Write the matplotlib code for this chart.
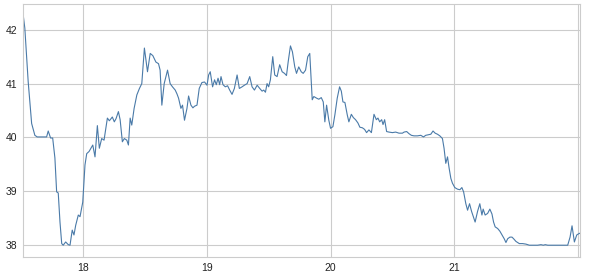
import matplotlib
matplotlib.use("Agg")
import matplotlib.pyplot as plt

# values
x = [17.517, 17.530, 17.557, 17.585, 17.611, 17.630, 17.706, 17.719, 17.738, 17.755,
     17.773, 17.787, 17.800, 17.814, 17.828, 17.840, 17.860, 17.881, 17.895, 17.913,
     17.927, 17.941, 17.962, 17.976, 17.998, 18.016, 18.030, 18.049, 18.079, 18.097,
     18.116, 18.132, 18.151, 18.170, 18.197, 18.213, 18.237, 18.253, 18.267, 18.286,
     18.300, 18.318, 18.334, 18.354, 18.367, 18.381, 18.394, 18.413, 18.435, 18.456,
     18.475, 18.496, 18.521, 18.543, 18.564, 18.589, 18.610, 18.623, 18.637, 18.656,
     18.683, 18.704, 18.723, 18.745, 18.759, 18.772, 18.791, 18.804, 18.820, 18.840,
     18.853, 18.872, 18.888, 18.901, 18.921, 18.939, 18.961, 18.982, 19.002, 19.015,
     19.028, 19.047, 19.063, 19.077, 19.091, 19.104, 19.115, 19.131, 19.150, 19.168,
     19.185, 19.204, 19.223, 19.245, 19.263, 19.285, 19.304, 19.326, 19.347, 19.366,
     19.385, 19.407, 19.428, 19.447, 19.460, 19.474, 19.487, 19.500, 19.514, 19.533,
     19.549, 19.568, 19.589, 19.609, 19.628, 19.644, 19.658, 19.676, 19.692, 19.711,
     19.725, 19.743, 19.763, 19.779, 19.798, 19.816, 19.832, 19.852, 19.865, 19.887,
     19.905, 19.925, 19.941, 19.954, 19.968, 19.986, 20.000, 20.019, 20.035, 20.054,
     20.073, 20.087, 20.100, 20.116, 20.135, 20.148, 20.168, 20.184, 20.202, 20.221,
     20.237, 20.257, 20.275, 20.291, 20.310, 20.330, 20.351, 20.370, 20.383, 20.397,
     20.413, 20.424, 20.437, 20.453, 20.472, 20.500, 20.526, 20.553, 20.581, 20.594,
     20.615, 20.634, 20.653, 20.674, 20.702, 20.729, 20.751, 20.769, 20.788, 20.810,
     20.828, 20.845, 20.864, 20.883, 20.904, 20.917, 20.931, 20.945, 20.958, 20.972,
     20.985, 21.004, 21.026, 21.045, 21.061, 21.075, 21.093, 21.107, 21.123, 21.139,
     21.152, 21.168, 21.188, 21.206, 21.223, 21.233, 21.249, 21.269, 21.287, 21.304,
     21.317, 21.330, 21.350, 21.368, 21.385, 21.403, 21.417, 21.431, 21.449, 21.466,
     21.479, 21.498, 21.525, 21.552, 21.579, 21.606, 21.633, 21.673, 21.700, 21.719,
     21.735, 21.755, 21.808, 21.862, 21.916, 21.935, 21.951, 21.970, 21.989, 22.010,
     22.019]
y = [42.27, 42.03, 41.04, 40.26, 40.04, 40.01, 40.01, 40.12, 39.99, 39.99,
     39.62, 38.99, 38.97, 38.43, 38.03, 38.00, 38.06, 38.01, 38.00, 38.28,
     38.19, 38.37, 38.56, 38.53, 38.80, 39.49, 39.70, 39.74, 39.86, 39.64,
     40.22, 39.80, 39.98, 39.95, 40.36, 40.31, 40.38, 40.29, 40.35, 40.48,
     40.33, 39.92, 39.98, 39.95, 39.86, 40.36, 40.23, 40.54, 40.79, 40.91,
     41.00, 41.66, 41.22, 41.56, 41.52, 41.40, 41.37, 41.25, 40.60, 41.00,
     41.25, 41.00, 40.94, 40.88, 40.81, 40.73, 40.54, 40.60, 40.32, 40.54,
     40.77, 40.60, 40.55, 40.58, 40.60, 40.91, 41.02, 41.03, 40.97, 41.16,
     41.22, 40.94, 41.07, 40.98, 41.10, 40.98, 41.13, 40.98, 40.94, 40.96,
     40.88, 40.80, 40.91, 41.16, 40.91, 40.94, 40.97, 41.00, 41.13, 40.94,
     40.88, 40.97, 40.91, 40.86, 40.88, 40.84, 41.00, 40.94, 41.07, 41.50,
     41.16, 41.13, 41.35, 41.22, 41.19, 41.15, 41.41, 41.70, 41.59, 41.31,
     41.19, 41.31, 41.22, 41.19, 41.25, 41.50, 41.56, 40.70, 40.76, 40.73,
     40.71, 40.74, 40.66, 40.29, 40.60, 40.32, 40.17, 40.20, 40.42, 40.73,
     40.94, 40.86, 40.66, 40.65, 40.42, 40.29, 40.43, 40.37, 40.33, 40.27,
     40.19, 40.18, 40.15, 40.09, 40.14, 40.09, 40.43, 40.33, 40.36, 40.29,
     40.33, 40.24, 40.33, 40.11, 40.10, 40.09, 40.10, 40.08, 40.08, 40.10,
     40.11, 40.07, 40.04, 40.03, 40.03, 40.04, 40.01, 40.04, 40.05, 40.06,
     40.12, 40.08, 40.06, 40.03, 39.98, 39.80, 39.52, 39.64, 39.43, 39.24,
     39.15, 39.07, 39.04, 39.03, 39.07, 38.99, 38.77, 38.65, 38.77, 38.63,
     38.54, 38.43, 38.63, 38.77, 38.56, 38.67, 38.56, 38.59, 38.67, 38.58,
     38.43, 38.34, 38.31, 38.26, 38.19, 38.12, 38.05, 38.12, 38.15, 38.15,
     38.12, 38.07, 38.03, 38.03, 38.02, 38.00, 38.00, 38.00, 38.01, 38.00,
     38.01, 38.00, 38.00, 38.00, 38.00, 38.15, 38.36, 38.06, 38.19, 38.22,
     38.22]

x_ticks = [18, 19, 20, 21, 22]
x_tick_labels = ['18', '19', '20', '21', '']
y_ticks = [38, 39, 40, 41, 42]

plt.rcParams['font.family'] = ['Liberation Sans', 'DejaVu Sans']

fig = plt.figure(figsize=(6.11, 2.77), dpi=100)
ax = fig.add_axes([0.038, 0.072, 0.912, 0.914])

ax.plot(x, y, color='#4a7aa8', linewidth=0.8)

ax.set_xlim(x[0], x[-1])
ax.set_ylim(37.78, 42.48)
ax.set_xticks(x_ticks, x_tick_labels)
ax.set_yticks(y_ticks)

ax.grid(True, color='#cccccc', linewidth=0.8)
ax.set_axisbelow(True)
for s in ax.spines.values():
    s.set_color('#cccccc')
    s.set_linewidth(0.8)
ax.tick_params(length=0, labelsize=7.5, colors='#222222', pad=4)

fig.savefig('out.png', dpi=100)
